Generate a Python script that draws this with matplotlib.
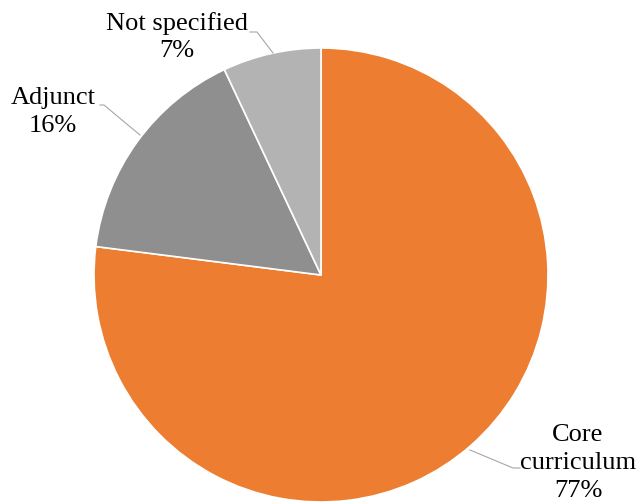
import matplotlib.pyplot as plt

# Share of items by category
labels = ['Core\ncurriculum', 'Adjunct', 'Not specified']
values = [77, 16, 7]
colors = ['#ED7D31', '#8F8F8F', '#B3B3B3']

W, H = 643, 504
fig = plt.figure(figsize=(W / 100, H / 100), dpi=100)
ax = fig.add_axes([0, 0, 1, 1])

cx, cy, r = 321, H - 275, 227
ax.pie(values, colors=colors, startangle=90, counterclock=False,
       center=(cx, cy), radius=r, frame=True,
       wedgeprops=dict(edgecolor='white', linewidth=1.2))
ax.set_xlim(0, W)
ax.set_ylim(0, H)
ax.set_aspect('equal')
ax.axis('off')

font = dict(family='Liberation Serif', fontsize=19, color='black',
            ha='center', va='center', linespacing=1.33)

# label position (pixel coords) and leader line points
label_pos = [(578, 463), (53, 112), (177, 37)]
leaders = [[(470, 450), (513, 468), (520, 468)],
           [(100, 105), (104, 105), (140, 135)],
           [(250, 32), (257, 32), (273, 53)]]

for lab, val, (px, py), pts in zip(labels, values, label_pos, leaders):
    ax.text(px, H - py, f'{lab}\n{val}%', **font)
    xs = [p[0] for p in pts]
    ys = [H - p[1] for p in pts]
    ax.plot(xs, ys, color='#A6A6A6', linewidth=0.8)

fig.savefig('out.png', dpi=100)
